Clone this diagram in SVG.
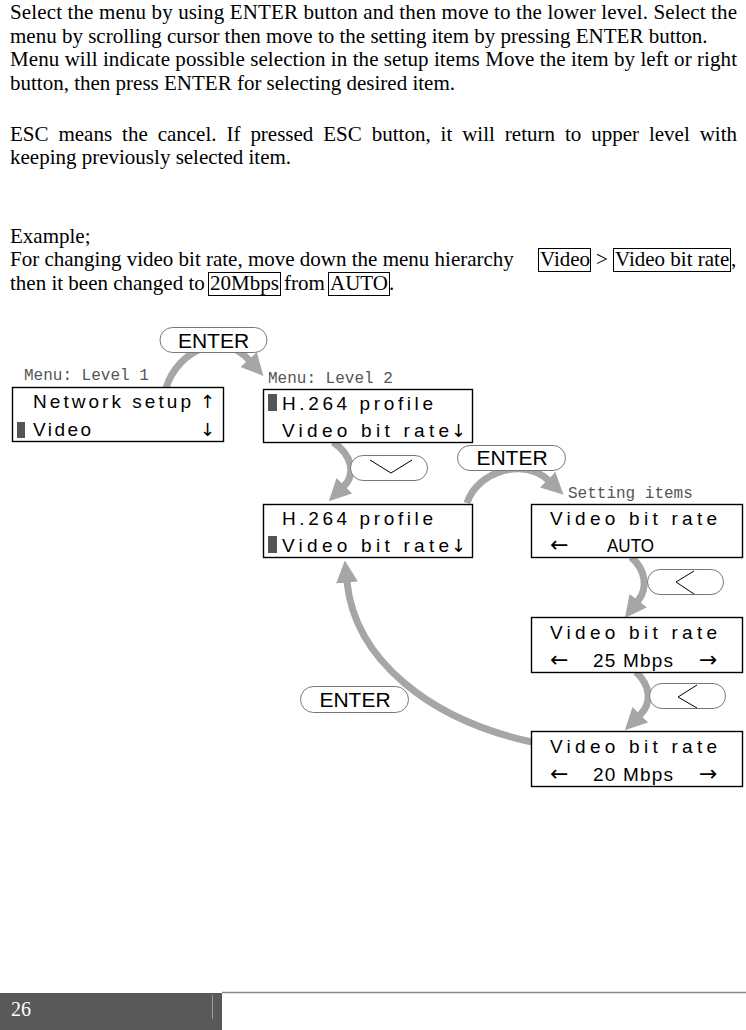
<svg xmlns="http://www.w3.org/2000/svg" width="746" height="1030" viewBox="0 0 746 1030">
<style>
.body{font-family:"Liberation Serif","Times New Roman",serif;font-size:21px;fill:#000}
.lcd{font-family:"Liberation Sans",Arial,sans-serif;font-size:19px;fill:#000}
.arr{font-family:"DejaVu Sans","Liberation Sans",sans-serif;font-size:18px;fill:#000}
.harr{font-family:"DejaVu Sans","Liberation Sans",sans-serif;font-size:22px;fill:#000}
.lbl{font-family:"Liberation Mono","Courier New",monospace;font-size:16px;fill:#555}
.box{fill:#fff;stroke:#000;stroke-width:1.4}
.pill{fill:#fff;stroke:#777;stroke-width:1}
.btn{font-family:"Liberation Sans",Arial,sans-serif;font-size:21px;fill:#000;text-anchor:middle}
.chev{fill:none;stroke:#000;stroke-width:1}
.cur{fill:#555}
.conn path{fill:none;stroke:#a6a6a6;stroke-width:7;marker-end:url(#ah)}
.hl{fill:none;stroke:#000;stroke-width:1}
</style>
<defs>
<marker id="ah" markerUnits="userSpaceOnUse" viewBox="0 -11 22 22" markerWidth="22" markerHeight="22" refX="0.5" refY="0" orient="auto">
<path d="M0,-11 L22,0 L0,11 Z" fill="#a6a6a6"/>
</marker>
</defs>
<rect width="746" height="1030" fill="#fff"/>

<g id="text">
<text class="body" x="10" y="19" textLength="727" lengthAdjust="spacing">Select the menu by using ENTER button and then move to the lower level. Select the</text>
<text class="body" x="10" y="43">menu by scrolling cursor then move to the setting item by pressing ENTER button.</text>
<text class="body" x="10" y="66" textLength="727" lengthAdjust="spacing">Menu will indicate possible selection in the setup items Move the item by left or right</text>
<text class="body" x="10" y="90">button, then press ENTER for selecting desired item.</text>
<text class="body" x="10" y="141" word-spacing="4.7" textLength="727" lengthAdjust="spacing">ESC means the cancel. If pressed ESC button, it will return to upper level with</text>
<text class="body" x="10" y="164">keeping previously selected item.</text>
<text class="body" x="10" y="243">Example;</text>
<text class="body" x="10" y="266">For changing video bit rate, move down the menu hierarchy</text>
<text class="body" x="540" y="266">Video</text>
<text class="body" x="596" y="266">&gt;</text>
<text class="body" x="615" y="266">Video bit rate</text>
<text class="body" x="731" y="266">,</text>
<text class="body" x="10" y="290">then it been changed to</text>
<text class="body" x="210" y="290">20Mbps</text>
<text class="body" x="284" y="290">from</text>
<text class="body" x="330" y="290">AUTO</text>
<text class="body" x="389" y="290">.</text>
<rect class="hl" x="538.5" y="248.5" width="52" height="23"/>
<rect class="hl" x="613.5" y="248.5" width="117" height="23"/>
<rect class="hl" x="208.5" y="272.5" width="72" height="23"/>
<rect class="hl" x="328.5" y="272.5" width="61" height="23"/>
</g>

<g class="conn" id="connectors">
<path d="M166,388 C178,350 222,330 249,360"/>
<path d="M333,442 C352,455 356,474 344,486"/>
<path d="M467,503 C478,470 525,458 548,480"/>
<path d="M631,557 C646,570 648,588 638,601"/>
<path d="M636,672 C651,686 652,703 640,715"/>
<path d="M532,742 C430,720 355,660 347,582"/>
</g>

<g id="btn-enter1">
<rect class="pill" x="160" y="327.5" width="107" height="25" rx="12.5"/>
<text class="btn" x="213.5" y="348">ENTER</text>
</g>
<g id="btn-down">
<rect class="pill" x="350.5" y="455.5" width="77" height="25" rx="12.5"/>
<polyline class="chev" points="370,460 391,473 412,460"/>
</g>
<g id="btn-enter2">
<rect class="pill" x="457.5" y="445.5" width="108" height="25" rx="12.5"/>
<text class="btn" x="512" y="465">ENTER</text>
</g>
<g id="btn-left1">
<rect class="pill" x="647.5" y="569.5" width="76" height="25" rx="12.5"/>
<polyline class="chev" points="694,571 676,582 694,594"/>
</g>
<g id="btn-left2">
<rect class="pill" x="649.5" y="683.5" width="76" height="25" rx="12.5"/>
<polyline class="chev" points="697,685 678,697 697,708"/>
</g>
<g id="btn-enter3">
<rect class="pill" x="300.5" y="686.5" width="108" height="26" rx="13"/>
<text class="btn" x="355" y="707">ENTER</text>
</g>

<g id="menu-level1">
<text class="lbl" x="24" y="380">Menu: Level 1</text>
<rect class="box" x="12.5" y="387.5" width="211" height="54"/>
<text class="lcd" x="33" y="408" textLength="158" lengthAdjust="spacing">Network setup</text>
<text class="arr" x="200" y="408">↑</text>
<rect class="cur" x="17" y="422" width="8" height="16"/>
<text class="lcd" x="33" y="436" textLength="58" lengthAdjust="spacing">Video</text>
<text class="arr" x="200" y="436">↓</text>
</g>

<g id="menu-level2a">
<text class="lbl" x="268" y="383">Menu: Level 2</text>
<rect class="box" x="263.5" y="389.5" width="209" height="53"/>
<rect class="cur" x="268" y="394" width="9" height="17"/>
<text class="lcd" x="282" y="410" textLength="151" lengthAdjust="spacing">H.264 profile</text>
<text class="lcd" x="282" y="437" textLength="167" lengthAdjust="spacing">Video bit rate</text>
<text class="arr" x="451" y="437">↓</text>
</g>

<g id="menu-level2b">
<rect class="box" x="263.5" y="504.5" width="209" height="53"/>
<text class="lcd" x="282" y="525" textLength="151" lengthAdjust="spacing">H.264 profile</text>
<rect class="cur" x="268" y="536" width="9" height="17"/>
<text class="lcd" x="282" y="552" textLength="167" lengthAdjust="spacing">Video bit rate</text>
<text class="arr" x="451" y="552">↓</text>
</g>

<g id="setting-auto">
<text class="lbl" x="568" y="498">Setting items</text>
<rect class="box" x="531.5" y="504.5" width="211" height="53"/>
<text class="lcd" x="550" y="525" textLength="167" lengthAdjust="spacing">Video bit rate</text>
<text class="harr" x="550" y="552">←</text>
<text class="lcd" x="607" y="552" textLength="47" lengthAdjust="spacingAndGlyphs">AUTO</text>
</g>

<g id="setting-25">
<rect class="box" x="531.5" y="617.5" width="211" height="55"/>
<text class="lcd" x="550" y="639" textLength="167" lengthAdjust="spacing">Video bit rate</text>
<text class="harr" x="550" y="667">←</text>
<text class="lcd" x="593" y="667" textLength="80" lengthAdjust="spacing">25 Mbps</text>
<text class="harr" x="699" y="667">→</text>
</g>

<g id="setting-20">
<rect class="box" x="531.5" y="731.5" width="211" height="55"/>
<text class="lcd" x="550" y="753" textLength="167" lengthAdjust="spacing">Video bit rate</text>
<text class="harr" x="550" y="781">←</text>
<text class="lcd" x="593" y="781" textLength="80" lengthAdjust="spacing">20 Mbps</text>
<text class="harr" x="699" y="781">→</text>
</g>

<g id="footer">
<rect x="0" y="993" width="222" height="37" fill="#595959"/>
<line x1="222" y1="992.5" x2="746" y2="992.5" stroke="#888" stroke-width="1.5"/>
<line x1="212.5" y1="995" x2="212.5" y2="1019" stroke="#9a9a9a" stroke-width="1"/>
<text x="11" y="1016" font-family="Liberation Serif, serif" font-size="20" fill="#fff">26</text>
</g>
</svg>
